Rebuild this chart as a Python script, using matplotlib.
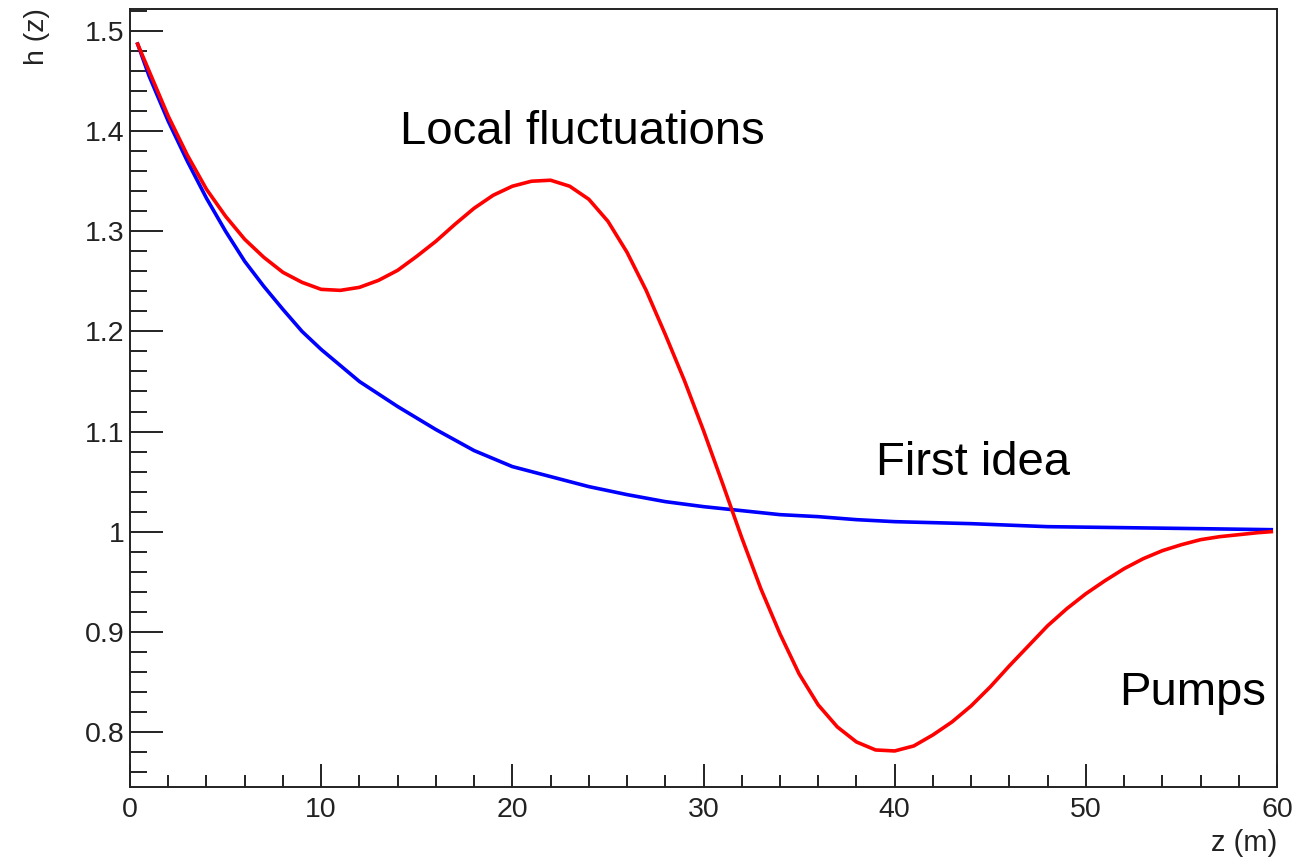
import matplotlib
matplotlib.use("Agg")
import matplotlib.pyplot as plt
from matplotlib.ticker import MultipleLocator, FuncFormatter

plt.rcParams['font.family'] = ['Liberation Sans', 'DejaVu Sans']

# Height profile h(z) along z (m)
z_first = [0.4, 1, 2, 3, 4, 5, 6, 7, 8, 9, 10, 12, 14, 16, 18, 20, 22, 24, 26,
           28, 30, 32, 34, 36, 38, 40, 44, 48, 52, 56, 59.7]
h_first = [1.487, 1.455, 1.41, 1.37, 1.333, 1.30, 1.27, 1.245, 1.222, 1.20,
           1.182, 1.15, 1.125, 1.102, 1.081, 1.065, 1.055, 1.045, 1.037, 1.03,
           1.025, 1.021, 1.017, 1.015, 1.012, 1.01, 1.008, 1.005, 1.004, 1.003,
           1.002]

z_local = [0.4, 1, 2, 3, 4, 5, 6, 7, 8, 9, 10, 11, 12, 13, 14, 15, 16, 17, 18,
           19, 20, 21, 22, 23, 24, 25, 26, 27, 28, 29, 30, 31, 32, 33, 34, 35,
           36, 37, 38, 39, 40, 41, 42, 43, 44, 45, 46, 47, 48, 49, 50, 51, 52,
           53, 54, 55, 56, 57, 58, 59, 59.7]
h_local = [1.487, 1.46, 1.415, 1.376, 1.342, 1.315, 1.292, 1.274, 1.259, 1.249,
           1.242, 1.241, 1.244, 1.251, 1.261, 1.275, 1.29, 1.307, 1.323, 1.336,
           1.345, 1.35, 1.351, 1.345, 1.332, 1.31, 1.279, 1.241, 1.197, 1.151,
           1.101, 1.048, 0.994, 0.943, 0.898, 0.858, 0.827, 0.805, 0.79, 0.782,
           0.781, 0.786, 0.797, 0.81, 0.826, 0.845, 0.866, 0.886, 0.906, 0.923,
           0.938, 0.951, 0.963, 0.973, 0.981, 0.987, 0.992, 0.995, 0.997, 0.999,
           1.0]

annotations = [("Local fluctuations", 14.14, 1.387),
               ("First idea", 39.0, 1.057),
               ("Pumps", 51.73, 0.827)]

W, H = 1298, 859
fig = plt.figure(figsize=(W / 100, H / 100), dpi=100)
left, right, top, bottom = 130, 1277, 9, 787
ax = fig.add_axes([left / W, 1 - bottom / H, (right - left) / W, (bottom - top) / H])

ax.plot(z_first, h_first, color='#0000ff', lw=2.6)
ax.plot(z_local, h_local, color='#ff0000', lw=2.6)

ax.set_xlim(0, 60)
ax.set_ylim(0.745, 1.522)

ax.xaxis.set_major_locator(MultipleLocator(10))
ax.xaxis.set_minor_locator(MultipleLocator(2))
ax.yaxis.set_major_locator(MultipleLocator(0.1))
ax.yaxis.set_minor_locator(MultipleLocator(0.02))
ax.yaxis.set_major_formatter(FuncFormatter(lambda v, p: f"{v:g}"))
ax.xaxis.set_major_formatter(FuncFormatter(lambda v, p: f"{v:g}"))

ax.tick_params(axis='both', which='both', direction='in', width=1.4,
               colors='#222222', labelcolor='#222222', labelsize=20.5,
               top=False, right=False)
ax.tick_params(axis='y', which='major', length=24, pad=4)
ax.tick_params(axis='y', which='minor', length=12)
ax.tick_params(axis='x', which='major', length=16.5, pad=7)
ax.tick_params(axis='x', which='minor', length=8.6)

for s in ax.spines.values():
    s.set_linewidth(1.4)
    s.set_color('#222222')

for txt, x, y in annotations:
    ax.text(x, y, txt, fontsize=34, ha='left', va='baseline', color='black')

fig.text(37 / W, 1 - 8 / H, "h (z)", rotation=90, ha='center', va='top',
         fontsize=20.5, color='#222222')
fig.text(right / W, 1 - 851 / H, "z (m)", ha='right', va='baseline',
         fontsize=21, color='#222222')

fig.savefig("out.png", dpi=100)
